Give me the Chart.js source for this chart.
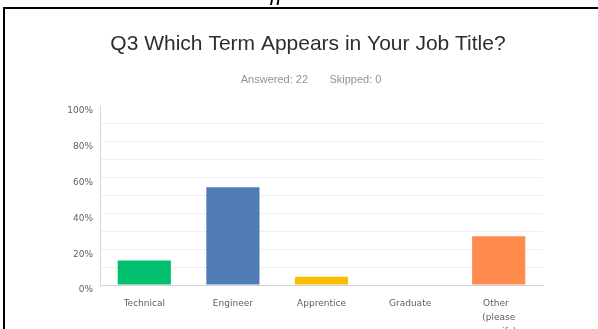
<!DOCTYPE html>
<html>
<head>
<meta charset="utf-8">
<script src="https://cdn.jsdelivr.net/npm/chart.js@4"></script>
<style>
  html, body { margin: 0; padding: 0; background: #fff; }
  #wrap { position: relative; width: 598px; height: 329px; }
</style>
</head>
<body>
<div id="wrap"><canvas id="q3Chart" width="598" height="329"></canvas></div>
<script>
// Q3 answers, percent of 22 respondents
const categories = ["Technical", "Engineer", "Apprentice", "Graduate", ["Other  ", "(please", "specify)"]];
const responses = [13.64, 54.55, 4.55, 0, 27.27];
const barColors = ["#00bf6f", "#507cb6", "#f9be00", "#6bc8cd", "#ff8b4f"];
const percentTicks = [0, 20, 40, 60, 80, 100];

// page frame and the caption line above it
const framePlugin = {
  id: "frame",
  afterLayout(chart) {
    // let the y labels spill into the left padding instead of being clipped
    chart.scales.y.left = 40;
  },
  afterDraw(chart) {
    const ctx = chart.ctx;
    ctx.save();
    ctx.fillStyle = "#000";
    ctx.fillRect(3, 7, 595, 2);
    ctx.fillRect(3, 7, 2, 322);
    ctx.font = "italic 24px 'Liberation Serif'";
    ctx.textAlign = "left";
    ctx.textBaseline = "alphabetic";
    ctx.fillText("Staff", 239, 0);
    ctx.restore();
  }
};

document.addEventListener("DOMContentLoaded", () => {
  const ctx = document.getElementById("q3Chart").getContext("2d");
  new Chart(ctx, {
    type: "bar",
    data: {
      labels: categories,
      datasets: [{
        data: responses,
        backgroundColor: barColors,
        borderWidth: 0,
        categoryPercentage: 1,
        barPercentage: 0.6
      }]
    },
    options: {
      responsive: false,
      animation: false,
      layout: { padding: { left: 73, right: 55, top: 0, bottom: 0 } },
      plugins: {
        legend: { display: false },
        tooltip: { enabled: false },
        title: {
          display: true,
          text: "Q3 Which Term Appears in Your Job Title?",
          color: "#2e2e2e",
          font: { family: "'Liberation Sans', Arial", size: 21, weight: "normal" },
          padding: { top: 32, bottom: 10 }
        },
        subtitle: {
          display: true,
          text: "  Answered: 22       Skipped: 0",
          color: "#8a94a2",
          font: { family: "'Liberation Sans', Arial", size: 11 },
          padding: { top: 6, bottom: 19.6 }
        }
      },
      scales: {
        x: {
          grid: { display: false, drawTicks: false },
          border: { display: true, color: "#d3d3d3" },
          ticks: {
            color: "#5f5f5f",
            font: { family: "'DejaVu Sans'", size: 9, lineHeight: 1.56 },
            padding: 11.5,
            maxRotation: 0,
            autoSkip: false
          },
          afterFit(scale) { scale.height = 44; }
        },
        y: {
          min: 0,
          max: 100,
          grid: {
            drawTicks: false,
            color: (c) => c.tick.value === 0 ? "#d3d3d3" : (c.tick.value === 100 ? "rgba(0,0,0,0)" : "#edf1f1")
          },
          border: { display: true, color: "#d9d9d9" },
          ticks: {
            stepSize: 10,
            color: "#5f5f5f",
            font: { family: "'DejaVu Sans'", size: 9 },
            padding: 7,
            labelOffset: 5,
            callback: (v) => percentTicks.includes(v) ? v + "%" : ""
          },
          afterFit(scale) { scale.width = 27; }
        }
      }
    },
    plugins: [framePlugin]
  });
});
</script>
</body>
</html>
